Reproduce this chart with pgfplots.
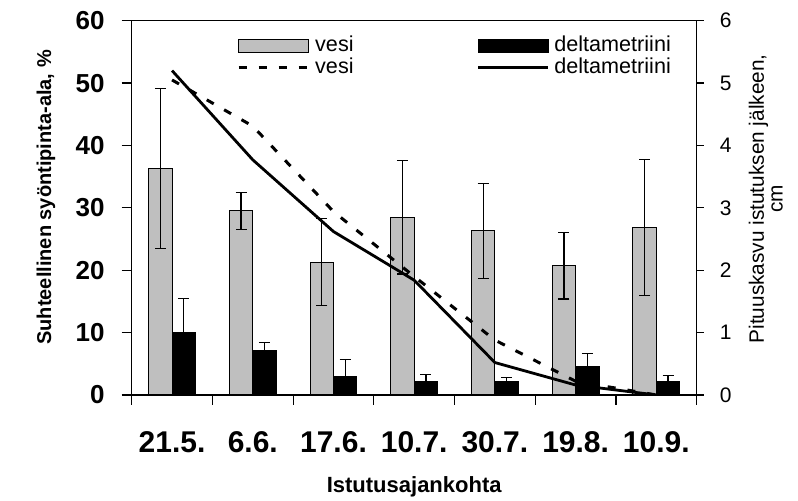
\documentclass[border=0pt]{standalone}
\usepackage{fontspec}
\setmainfont{Liberation Sans}
\usepackage{pgfplots}
\pgfplotsset{compat=1.18}
\usepackage{pgfplotstable}

\definecolor{barGrey}{gray}{0.75}

% relative feeding area, % (left axis)
\pgfplotstableread{
x vesi vesierr delta deltaerr
0 36.3 12.8 10.0 5.5
1 29.5 3.0  7.1  1.3
2 21.3 7.0  3.0  2.7
3 28.5 9.1  2.2  1.1
4 26.3 7.6  2.2  0.6
5 20.7 5.3  4.6  2.0
6 26.8 10.9 2.2  0.9
}\bars

% height growth, cm (right axis)
\pgfplotstableread{
x vesi delta
0 5.05 5.20
1 4.31 3.77
2 2.94 2.62
3 1.90 1.84
4 0.88 0.52
5 0.22 0.16
6 0.00 0.00
}\growth

\pgfplotsset{
  common/.style={
    at={(0,0)}, anchor=south west,
    scale only axis, width=282.5pt, height=187.15pt,
    xmin=-0.5, xmax=6.5,
    axis line style={line width=0.6pt},
    every tick/.style={black, line width=0.6pt},
    tick align=outside,
    /pgf/number format/assume math mode=true,
  },
  boxlegend/.style={legend image code/.code={\draw[##1] (0pt,-3.25pt) rectangle (35pt,3.25pt);}},
  linelegend/.style={legend image code/.code={\draw[##1] (0pt,0pt) -- (35pt,0pt);}},
  errs/.style={error bars/.cd, y dir=both, y explicit,
    error bar style={line width=0.6pt, black},
    error mark options={rotate=90, mark size=2.75pt, line width=0.6pt, black}},
}

\begin{document}
\begin{tikzpicture}
\path[use as bounding box] (-65.85pt,-53pt) rectangle (333.15pt,197.5pt);

\begin{axis}[
  common,
  ymin=0, ymax=60,
  ybar, bar width=0.29,
  xtick pos=bottom, ytick pos=left,
  xtick={0,...,6},
  xticklabels={21.5.,6.6.,17.6.,10.7.,30.7.,19.8.,10.9.},
  major x tick style={draw=none},
  minor xtick={-0.5,0.5,...,6.5},
  minor tick length=5pt, major tick length=5pt,
  ytick={0,10,...,60},
  xticklabel style={font=\bfseries\fontsize{15}{15}\selectfont, anchor=base, inner sep=0pt, yshift=-24pt},
  yticklabel style={font=\bfseries\fontsize{13}{13}\selectfont, anchor=east, inner sep=0pt, xshift=-8.35pt},
  xlabel={Istutusajankohta},
  xlabel style={font=\bfseries\fontsize{11}{11}\selectfont, at={(axis description cs:0.5,0)}, anchor=base, yshift=-49pt},
  ylabel={Suhteellinen syöntipinta-ala, \%},
  ylabel style={font=\bfseries\fontsize{10}{10}\selectfont, at={([xshift=-42.85pt]axis description cs:0,0.528)}, anchor=center},
]
\addplot[fill=barGrey, draw=black, line width=0.5pt, bar shift=-0.145, errs]
  table[x=x, y=vesi, y error=vesierr] {\bars};
\addplot[fill=black, draw=black, line width=0.5pt, bar shift=0.145, errs]
  table[x=x, y=delta, y error=deltaerr] {\bars};
\end{axis}

\begin{axis}[
  common,
  ymin=0, ymax=6,
  axis x line=none, axis y line*=right,
  ytick={0,1,...,6},
  major tick length=3.5pt,
  yticklabel shift=4.5pt,
  yticklabel style={font=\fontsize{10.5}{10.5}\selectfont},
  ylabel={Pituuskasvu istutuksen jälkeen,\\cm},
  ylabel style={font=\fontsize{10.4}{9.4}\selectfont, align=center, at={([xshift=34.6pt]axis description cs:1,0.524)}, anchor=center},
  legend columns=2,
  legend cell align=left,
  legend style={draw=none, fill=none, at={(0.186,0.96)}, anchor=north west,
    inner sep=0pt, font=\fontsize{10.8}{10.8}\selectfont, row sep=1.5pt,
    nodes={inner sep=0pt, text height=7.5pt, text depth=2pt},
    /tikz/every odd column/.append style={column sep=2.5pt},
    /tikz/every even column/.append style={column sep=61.5pt}},
]
\addlegendimage{fill=barGrey, draw=black, line width=0.5pt, boxlegend}
\addlegendentry{vesi}
\addlegendimage{fill=black, draw=black, line width=0.5pt, boxlegend}
\addlegendentry{deltametriini}
\addplot[black, line width=1.5pt, dash pattern=on 4pt off 6pt, linelegend]
  table[x=x, y=vesi] {\growth};
\addlegendentry{vesi}
\addplot[black, line width=1.4pt, linelegend]
  table[x=x, y=delta] {\growth};
\addlegendentry{deltametriini}
\end{axis}
\end{tikzpicture}
\end{document}
